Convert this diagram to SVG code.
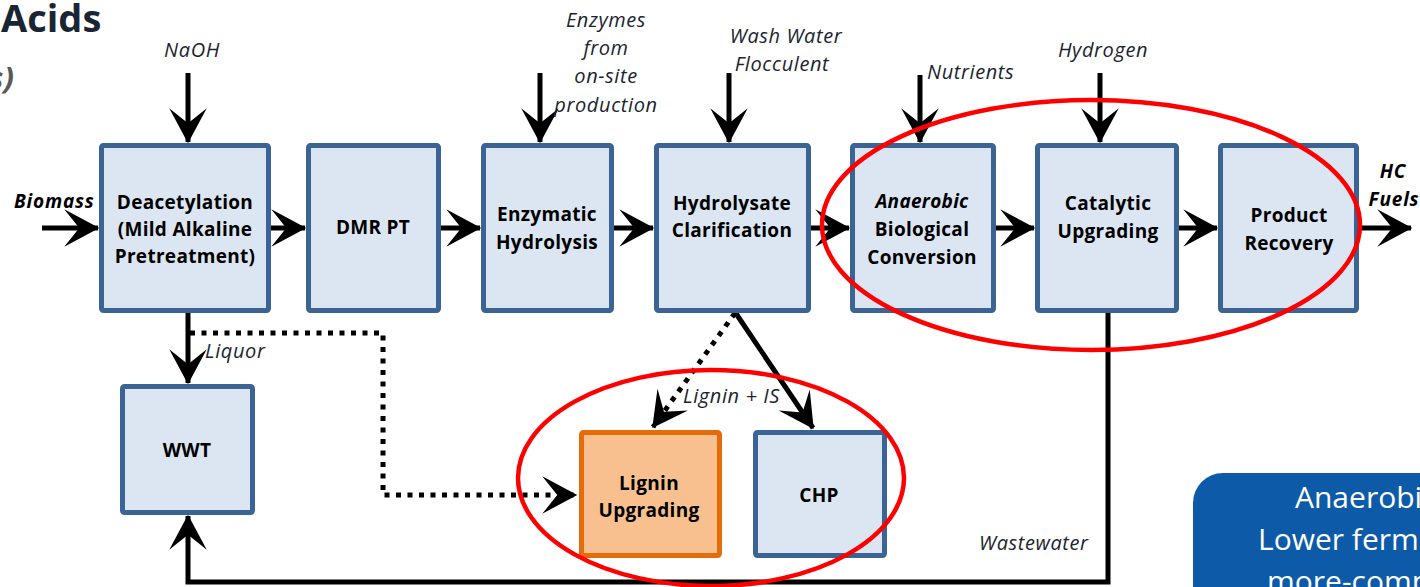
<svg xmlns="http://www.w3.org/2000/svg" width="1420" height="587" viewBox="0 0 1420 587">
  <style>
    .box { fill: #dce6f2; stroke: #3b6393; stroke-width: 5; }
    .box-orange { fill: #f9c08f; stroke: #e46c0a; stroke-width: 5; }
    .lbl { font-family: "Open Sans", Lato, sans-serif; font-weight: 700; font-size: 19px; letter-spacing: 0.3px; fill: #000; text-anchor: middle; }
    .it { font-family: "Open Sans", Lato, sans-serif; font-style: italic; font-size: 20px; letter-spacing: 0.6px; fill: #1b2430; }
    .itb { font-family: "Open Sans", Lato, sans-serif; font-style: italic; font-weight: 700; font-size: 19px; letter-spacing: 0.8px; fill: #000; }
    .flow { stroke: #000; stroke-width: 5; fill: none; }
    .dot { stroke: #000; stroke-width: 5; fill: none; stroke-dasharray: 5 6.5; }
    .ring { fill: none; stroke: #ff0000; stroke-width: 4.5; }
    .note { font-family: "Open Sans", Lato, sans-serif; font-size: 30px; fill: #fff; }
  </style>
  <defs>
    <marker id="head" markerUnits="userSpaceOnUse" markerWidth="40" markerHeight="40" viewBox="-30 -16 32 32" refX="0" refY="0" orient="auto">
      <path d="M1,0 L-27,-15 L-15,0 L-27,15 Z" fill="#000"/>
    </marker>
  </defs>

  <rect width="1420" height="587" fill="#fff"/>

  <!-- slide title fragments -->
  <text x="1" y="32" font-family="'Open Sans', Lato, sans-serif" font-weight="700" font-size="38" fill="#1a2533">Acids</text>
  <text x="14" y="89" text-anchor="end" font-family="'Open Sans', Lato, sans-serif" font-style="italic" font-weight="700" font-size="31" fill="#595959">s)</text>

  <!-- connectors -->
  <g id="connectors">
    <!-- feed arrows from above -->
    <line class="flow" x1="188" y1="73" x2="188" y2="142" marker-end="url(#head)"/>
    <line class="flow" x1="540" y1="73" x2="540" y2="142" marker-end="url(#head)"/>
    <line class="flow" x1="729" y1="73" x2="729" y2="142" marker-end="url(#head)"/>
    <line class="flow" x1="920" y1="75" x2="920" y2="142" marker-end="url(#head)"/>
    <line class="flow" x1="1100" y1="73" x2="1100" y2="142" marker-end="url(#head)"/>
    <!-- main train -->
    <line class="flow" x1="42" y1="228" x2="98" y2="228" marker-end="url(#head)"/>
    <line class="flow" x1="271" y1="228" x2="305" y2="228" marker-end="url(#head)"/>
    <line class="flow" x1="440" y1="228" x2="480" y2="228" marker-end="url(#head)"/>
    <line class="flow" x1="613" y1="228" x2="653" y2="228" marker-end="url(#head)"/>
    <line class="flow" x1="810" y1="228" x2="849" y2="228" marker-end="url(#head)"/>
    <line class="flow" x1="995" y1="228" x2="1034" y2="228" marker-end="url(#head)"/>
    <line class="flow" x1="1177" y1="228" x2="1217" y2="228" marker-end="url(#head)"/>
    <line class="flow" x1="1358" y1="228" x2="1411" y2="228" marker-end="url(#head)"/>
    <!-- liquor to WWT -->
    <line class="flow" x1="188" y1="311" x2="188" y2="383" marker-end="url(#head)"/>
    <!-- dotted liquor route to lignin upgrading -->
    <path class="dot" d="M190,333 H383 V495 H576" marker-end="url(#head)"/>
    <!-- lignin + IS split -->
    <line class="dot" x1="735" y1="313" x2="653" y2="427" marker-end="url(#head)"/>
    <line class="flow" x1="735" y1="312" x2="813" y2="428" marker-end="url(#head)"/>
    <!-- wastewater recycle -->
    <path class="flow" d="M1108,311 V582 H188 V516" marker-end="url(#head)"/>
  </g>

  <!-- process blocks -->
  <g id="deacetylation">
    <rect class="box" x="101.5" y="145.5" width="167" height="165" rx="2"/>
    <text class="lbl" x="185" y="209">Deacetylation</text>
    <text class="lbl" x="185" y="236">(Mild Alkaline</text>
    <text class="lbl" x="185" y="263">Pretreatment)</text>
  </g>
  <g id="dmr-pt">
    <rect class="box" x="308.5" y="145.5" width="130" height="165" rx="2"/>
    <text class="lbl" x="373" y="234">DMR PT</text>
  </g>
  <g id="enzymatic-hydrolysis">
    <rect class="box" x="483.5" y="145.5" width="128" height="165" rx="2"/>
    <text class="lbl" x="547" y="221">Enzymatic</text>
    <text class="lbl" x="547" y="249">Hydrolysis</text>
  </g>
  <g id="hydrolysate-clarification">
    <rect class="box" x="656.5" y="145.5" width="152" height="165" rx="2"/>
    <text class="lbl" x="732" y="210">Hydrolysate</text>
    <text class="lbl" x="732" y="237">Clarification</text>
  </g>
  <g id="anaerobic-conversion">
    <rect class="box" x="852.5" y="145.5" width="141" height="165" rx="2"/>
    <text class="lbl" x="922" y="208" font-style="italic">Anaerobic</text>
    <text class="lbl" x="922" y="236">Biological</text>
    <text class="lbl" x="922" y="264">Conversion</text>
  </g>
  <g id="catalytic-upgrading">
    <rect class="box" x="1037.5" y="145.5" width="139" height="165" rx="2"/>
    <text class="lbl" x="1108" y="210">Catalytic</text>
    <text class="lbl" x="1108" y="238">Upgrading</text>
  </g>
  <g id="product-recovery">
    <rect class="box" x="1220.5" y="145.5" width="136" height="165" rx="2"/>
    <text class="lbl" x="1289" y="222">Product</text>
    <text class="lbl" x="1289" y="250">Recovery</text>
  </g>
  <g id="wwt">
    <rect class="box" x="122.5" y="386.5" width="130" height="126" rx="2"/>
    <text class="lbl" x="187" y="457">WWT</text>
  </g>
  <g id="lignin-upgrading">
    <rect class="box-orange" x="581.5" y="432.5" width="138" height="123" rx="2"/>
    <text class="lbl" x="649" y="490">Lignin</text>
    <text class="lbl" x="649" y="517">Upgrading</text>
  </g>
  <g id="chp">
    <rect class="box" x="755.5" y="432.5" width="129" height="123" rx="2"/>
    <text class="lbl" x="819" y="502">CHP</text>
  </g>

  <!-- stream labels -->
  <g id="stream-labels">
    <text class="it" x="192" y="57" text-anchor="middle">NaOH</text>
    <text class="it" x="606" y="27" text-anchor="middle">Enzymes</text>
    <text class="it" x="606" y="55" text-anchor="middle">from</text>
    <text class="it" x="606" y="83" text-anchor="middle">on-site</text>
    <text class="it" x="606" y="112" text-anchor="middle">production</text>
    <text class="it" x="786" y="43" text-anchor="middle">Wash Water</text>
    <text class="it" x="782" y="71" text-anchor="middle">Flocculent</text>
    <text class="it" x="927" y="79">Nutrients</text>
    <text class="it" x="1103" y="57" text-anchor="middle">Hydrogen</text>
    <text class="itb" x="14" y="208">Biomass</text>
    <text class="itb" x="1393" y="178" text-anchor="middle">HC</text>
    <text class="itb" x="1394" y="206" text-anchor="middle">Fuels</text>
    <text class="it" x="205" y="358">Liquor</text>
    <text class="it" x="683" y="403">Lignin + IS</text>
    <text class="it" x="979" y="550">Wastewater</text>
  </g>

  <!-- highlight rings -->
  <g id="highlights">
    <ellipse class="ring" cx="1091" cy="225" rx="269" ry="125"/>
    <ellipse class="ring" cx="711" cy="478" rx="193" ry="108"/>
  </g>

  <!-- callout box -->
  <g id="callout">
    <rect x="1193" y="473" width="280" height="150" rx="30" fill="#0d5ba8"/>
    <text class="note" x="1295" y="508">Anaerobic</text>
    <text class="note" x="1258" y="550">Lower fermentation</text>
    <text class="note" x="1267" y="592">more-complex</text>
  </g>
</svg>
